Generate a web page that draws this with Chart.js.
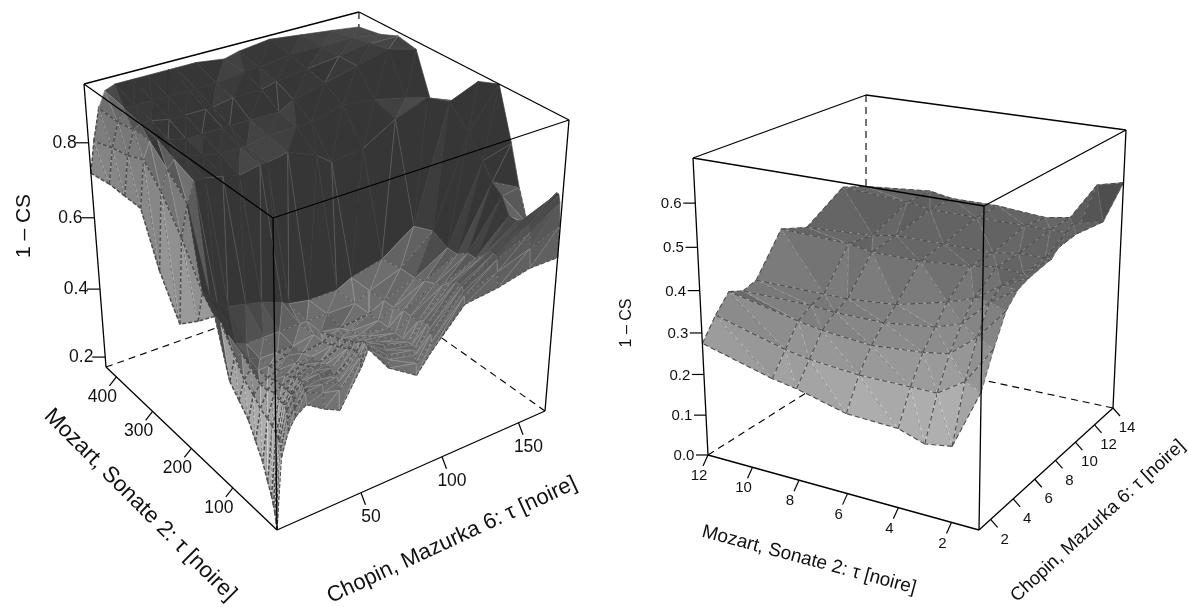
<!DOCTYPE html>
<html>
<head>
<meta charset="utf-8">
<style>
  html, body { margin: 0; padding: 0; background: #fff; }
  canvas { position: absolute; top: 0; }
  #left-surface { left: 0; }
  #right-surface { left: 600px; }
</style>
<script src="https://cdn.jsdelivr.net/npm/chart.js@4"></script>
</head>
<body>
<canvas id="left-surface" width="600" height="607"></canvas>
<canvas id="right-surface" width="588" height="607"></canvas>
<script>
// left panel: lags and 1-CS
const leftMozart = [1, 3, 5, 8, 12, 20, 30, 45, 60, 80, 100, 130, 170, 215, 260, 300, 340, 380, 430];
const leftChopin = [1, 4, 8, 12, 18, 28, 37, 49, 53, 65, 82, 91, 110, 130, 150, 168];
const leftValues = [
  [.17, .36, .42, .45, .47, .44, .42, .51, .55, .48, .43, .48, .57, .58, .60, .60],
  [.19, .38, .45, .47, .50, .48, .47, .52, .56, .50, .46, .50, .59, .62, .65, .68],
  [.21, .40, .47, .49, .51, .50, .49, .53, .56, .51, .48, .52, .60, .65, .69, .74],
  [.23, .40, .48, .50, .52, .51, .50, .54, .56, .52, .49, .53, .61, .66, .71, .76],
  [.25, .41, .48, .50, .52, .52, .50, .54, .56, .53, .50, .54, .61, .66, .71, .76],
  [.28, .42, .48, .50, .52, .52, .51, .54, .55, .53, .50, .54, .61, .66, .71, .74],
  [.32, .43, .49, .50, .51, .52, .51, .53, .54, .53, .50, .53, .60, .64, .70, .66],
  [.36, .44, .48, .50, .50, .51, .50, .52, .53, .52, .50, .53, .58, .62, .70, .62],
  [.40, .46, .48, .49, .50, .50, .50, .51, .52, .51, .50, .53, .57, .62, .74, .64],
  [.43, .48, .50, .49, .49, .50, .49, .50, .51, .50, .50, .52, .56, .60, .76, .72],
  [.46, .52, .52, .50, .49, .49, .49, .50, .50, .49, .50, .52, .55, .60, .80, .82],
  [.60, .58, .54, .51, .50, .50, .50, .50, .50, .50, .50, .52, .55, .62, .85, .95],
  [.55, .62, .60, .58, .56, .55, .54, .52, .51, .50, .50, .52, .54, .60, .90, .93],
  [.50, .72, .80, .85, .85, .84, .83, .84, .84, .85, .82, .79, .80, .85, .88, .85],
  [.60, .80, .85, .87, .87, .86, .85, .85, .85, .86, .86, .86, .88, .87, .85, .80],
  [.73, .85, .89, .89, .88, .87, .87, .87, .87, .87, .87, .89, .91, .93, .95, .93],
  [.73, .83, .89, .90, .90, .89, .89, .89, .89, .90, .90, .91, .92, .93, .94, .94],
  [.73, .82, .88, .91, .91, .91, .91, .91, .91, .91, .92, .92, .93, .93, .93, .92],
  [.72, .80, .88, .92, .93, .93, .93, .93, .93, .93, .92, .93, .94, .93, .92, .91]
];
const leftMozartTicks = [100, 200, 300, 400];
const leftChopinTicks = [50, 100, 150];
const leftValueTicks = [0.2, 0.4, 0.6, 0.8];

// right panel
const rightMozart = [1, 2, 3, 4, 6, 8, 9, 12];
const rightChopin = [1, 2, 3, 4, 5, 7, 9, 12, 14];
const rightValues = [
  [.31, .385, .45, .48, .49, .50, .55, .51, .575],
  [.175, .30, .38, .44, .46, .455, .46, .47, .56],
  [.165, .26, .33, .38, .42, .46, .46, .47, .47],
  [.185, .26, .32, .36, .40, .45, .45, .47, .46],
  [.19, .26, .31, .345, .37, .44, .45, .47, .47],
  [.22, .27, .32, .345, .36, .44, .45, .47, .47],
  [.23, .28, .33, .35, .36, .45, .44, .48, .48],
  [.275, .325, .365, .35, .36, .455, .43, .49, .465]
];
const rightMozartTicks = [2, 4, 6, 8, 10, 12];
const rightChopinTicks = [2, 4, 6, 8, 10, 12, 14];
const rightValueTicks = [0.0, 0.1, 0.2, 0.3, 0.4, 0.5, 0.6];

const mozartTitle = 'Mozart, Sonate 2: τ [noire]';
const chopinTitle = 'Chopin, Mazurka 6: τ [noire]';
const valueTitle = '1 – CS';

// box corners and label placement for each panel (page pixels)
const leftView = {
  xRange: [0, 600],
  F: [277, 530], L: [106, 367], R: [545, 411], B: [357, 278],
  TF: [273, 218], TL: [84, 84], TR: [569, 120], TB: [359, 12],
  uRange: [1, 430], vRange: [1, 168], zRange: [0.17, 0.95],
  uWarp: 1.16, vWarp: 1.1, zWarp: 0.908,
  shade: { base: 165, z: 110, b: 55, a: 50, topCap: 74 },
  darkAt: 88, midAt: 118, dashWidth: 1.5, dash: [4, 2],
  tickFont: '17.5px "Liberation Sans"', uTitleFont: '22.5px "Liberation Sans"', vTitleFont: '22px "Liberation Sans"', zTitleFont: '21px "Liberation Sans"',
  zTick: [-13, 0], zLabel: [-24, 0],
  uTick: [-7, 9], uLabel: [-14, 20],
  vTick: [4.5, 12], vLabel: [10, 24],
  uTitle: { x: 140, y: 505, angle: 45 },
  vTitle: { x: 452, y: 540, angle: -25 },
  zTitle: { x: 24, y: 226 }
};
const rightView = {
  xRange: [600, 1188],
  F: [979, 530], L: [708, 455], R: [1113, 408], B: [866, 355],
  TF: [984, 206], TL: [693, 158], TR: [1126, 130], TB: [866, 95],
  uRange: [1, 12], vRange: [1, 14], zRange: [0, 0.7],
  uWarp: 1.13, vWarp: 1.14, zWarp: 0.93,
  shade: { base: 170, z: 150, b: 50, a: 20, topCap: 255 },
  darkAt: 0, midAt: 0, dashWidth: 1.1, dash: [5, 3],
  tickFont: '15px "Liberation Sans"', uTitleFont: '19px "Liberation Sans"', vTitleFont: '18.5px "Liberation Sans"', zTitleFont: '16px "Liberation Sans"',
  zTick: [-12, 0], zLabel: [-24, 1],
  uTick: [-5, 11], uLabel: [-9, 21],
  vTick: [7, 8], vLabel: [14, 20],
  uTitle: { x: 809, y: 560, angle: 15 },
  vTitle: { x: 1098, y: 521, angle: -42.6 },
  zTitle: { x: 627, y: 323 }
};

const mix = (p, q, t) => [p[0] + (q[0] - p[0]) * t, p[1] + (q[1] - p[1]) * t];
const warp = (r, k) => r * k / (1 + r * (k - 1));

function project(view, a, b, w) {
  const low = mix(mix(view.F, view.L, a), mix(view.R, view.B, a), b);
  const high = mix(mix(view.TF, view.TL, a), mix(view.TR, view.TB, a), b);
  const p = mix(low, high, w);
  return { x: p[0], y: p[1] };
}
function boxCoords(view, u, v, z) {
  return {
    a: warp((u - view.uRange[0]) / (view.uRange[1] - view.uRange[0]), view.uWarp),
    b: warp((v - view.vRange[0]) / (view.vRange[1] - view.vRange[0]), view.vWarp),
    w: warp((z - view.zRange[0]) / (view.zRange[1] - view.zRange[0]), view.zWarp),
  };
}
function toPage(view, u, v, z) {
  const c = boxCoords(view, u, v, z);
  return project(view, c.a, c.b, c.w);
}

function lineSet(points, color, width, dash) {
  return { data: points, showLine: true, borderColor: color, borderWidth: width, borderDash: dash || [], pointRadius: 0, fill: false, tension: 0, clip: false };
}

function faceGray(view, c0, c1, c2, zMean) {
  const e1 = [c1.a - c0.a, c1.b - c0.b, c1.w - c0.w];
  const e2 = [c2.a - c0.a, c2.b - c0.b, c2.w - c0.w];
  let n = [e1[1] * e2[2] - e1[2] * e2[1], e1[2] * e2[0] - e1[0] * e2[2], e1[0] * e2[1] - e1[1] * e2[0]];
  const len = Math.hypot(n[0], n[1], n[2]) || 1;
  const sign = n[2] < 0 ? -1 : 1;
  n = n.map(d => d * sign / len);
  const s = view.shade;
  const aMean = (c0.a + c1.a + c2.a) / 3, bMean = (c0.b + c1.b + c2.b) / 3;
  // walls only go dark towards the back, slopes only catch light near the low-lag side
  const backness = Math.min(1, aMean / 0.3) * Math.min(1, bMean / 0.07);
  const lit = (1 - bMean) * (1 - bMean);
  const farSide = Math.max(0, (bMean - 0.5) * 2);
  let g = s.base - s.z * zMean - s.b * n[1] * lit + s.a * n[0] * backness + s.a * n[1] * farSide;
  if (zMean > 0.78 && bMean > 0.1) g = Math.min(g, s.topCap);
  return Math.max(54, Math.min(175, g));
}

function triangleSets(view, tri, zMean, dashPath, i, j) {
  const cs = tri.map(t => t.c);
  const g = Math.round(faceGray(view, cs[0], cs[1], cs[2], zMean));
  const pts = tri.map(t => t.p);
  const fillColor = `rgb(${g},${g},${g})`;
  // dark faces only show every other mesh line, thin and pale
  const quiet = g <= view.darkAt && (i % 3 !== 0 || j % 2 !== 0);
  const edge = quiet ? fillColor : `rgb(${g + 35},${g + 35},${g + 35})`;
  const out = [{
    data: [...pts, pts[0]], showLine: true, fill: 'shape',
    backgroundColor: fillColor, borderColor: edge,
    borderWidth: 0.7, pointRadius: 0, tension: 0, clip: false
  }];
  if (g > view.darkAt) {
    const width = g > view.midAt ? view.dashWidth : view.dashWidth * 0.6;
    if (g > view.midAt || (i + j) % 2 === 0) out.push(lineSet(dashPath, '#4d4d4d', width, view.dash));
  }
  return out;
}

function surfaceSets(view, mozart, chopin, values) {
  const node = (i, j) => {
    const c = boxCoords(view, mozart[i], chopin[j], values[i][j]);
    return { c, p: project(view, c.a, c.b, c.w), z: values[i][j] };
  };
  const sets = [];
  // painter's order: far corner of the floor first
  for (let i = mozart.length - 2; i >= 0; i--) {
    for (let j = chopin.length - 2; j >= 0; j--) {
      const p00 = node(i, j), p10 = node(i + 1, j), p01 = node(i, j + 1), p11 = node(i + 1, j + 1);
      sets.push(...triangleSets(view, [p00, p10, p11], (p00.z + p10.z + p11.z) / 3, [p10.p, p11.p, p00.p], i, j));
      sets.push(...triangleSets(view, [p00, p01, p11], (p00.z + p01.z + p11.z) / 3, [p01.p, p11.p], i, j));
      if (j === 0) sets.push(lineSet([p00.p, p10.p], '#4d4d4d', view.dashWidth, view.dash));
      if (i === 0) sets.push(lineSet([p00.p, p01.p], '#4d4d4d', view.dashWidth * 0.7, view.dash));
    }
  }
  return sets;
}

function boxSets(view, mozartTicks, chopinTicks, valueTicks) {
  const xy = k => ({ x: view[k][0], y: view[k][1] });
  const back = [['L', 'B'], ['R', 'B'], ['TB', 'B']].map(([p, q]) => lineSet([xy(p), xy(q)], '#000', 1.1, [7, 5]));
  const edges = [['F', 'L'], ['F', 'R'], ['F', 'TF'], ['L', 'TL'], ['R', 'TR'], ['TF', 'TL'], ['TF', 'TR'], ['TL', 'TB'], ['TR', 'TB']];
  const front = edges.map(([p, q]) => lineSet([xy(p), xy(q)], '#000', 1.3));
  const tick = (p, d) => lineSet([p, { x: p.x + d[0], y: p.y + d[1] }], '#000', 1.2);
  mozartTicks.forEach(t => front.push(tick(toPage(view, t, view.vRange[0], view.zRange[0]), view.uTick)));
  chopinTicks.forEach(t => front.push(tick(toPage(view, view.uRange[0], t, view.zRange[0]), view.vTick)));
  valueTicks.forEach(t => front.push(tick(toPage(view, view.uRange[1], view.vRange[0], t), view.zTick)));
  return { back, front };
}

// tick labels and axis titles, written on the canvas as text
function labelPlugin(view, mozartTicks, chopinTicks, valueTicks, decimals) {
  return {
    id: 'boxLabels',
    afterDraw(chart) {
      const ctx = chart.ctx;
      const xs = chart.scales.x, ys = chart.scales.y;
      const put = (text, x, y, angle, font) => {
        ctx.save();
        ctx.translate(xs.getPixelForValue(x), ys.getPixelForValue(y));
        ctx.rotate(angle * Math.PI / 180);
        ctx.font = font;
        ctx.fillStyle = '#111';
        ctx.textAlign = 'center';
        ctx.textBaseline = 'middle';
        ctx.fillText(text, 0, 0);
        ctx.restore();
      };
      mozartTicks.forEach(t => {
        const p = toPage(view, t, view.vRange[0], view.zRange[0]);
        put(String(t), p.x + view.uLabel[0], p.y + view.uLabel[1], 0, view.tickFont);
      });
      chopinTicks.forEach(t => {
        const p = toPage(view, view.uRange[0], t, view.zRange[0]);
        put(String(t), p.x + view.vLabel[0], p.y + view.vLabel[1], 0, view.tickFont);
      });
      valueTicks.forEach(t => {
        const p = toPage(view, view.uRange[1], view.vRange[0], t);
        put(t.toFixed(decimals), p.x + view.zLabel[0], p.y + view.zLabel[1], 0, view.tickFont);
      });
      put(mozartTitle, view.uTitle.x, view.uTitle.y, view.uTitle.angle, view.uTitleFont);
      put(chopinTitle, view.vTitle.x, view.vTitle.y, view.vTitle.angle, view.vTitleFont);
      put(valueTitle, view.zTitle.x, view.zTitle.y, -90, view.zTitleFont);
    }
  };
}

function surfaceChart(id, view, mozart, chopin, values, mozartTicks, chopinTicks, valueTicks) {
  const box = boxSets(view, mozartTicks, chopinTicks, valueTicks);
  const ordered = [...box.back, ...surfaceSets(view, mozart, chopin, values), ...box.front];
  return new Chart(document.getElementById(id), {
    type: 'scatter',
    // chart.js paints the first dataset last, so hand them over back to front reversed
    data: { datasets: ordered.reverse() },
    options: {
      responsive: false,
      animation: false,
      parsing: false,
      normalized: true,
      events: [],
      layout: { padding: 0 },
      scales: {
        x: { type: 'linear', display: false, min: view.xRange[0], max: view.xRange[1] },
        y: { type: 'linear', display: false, reverse: true, min: 0, max: 607 }
      },
      plugins: { legend: { display: false }, tooltip: { enabled: false } }
    },
    plugins: [labelPlugin(view, mozartTicks, chopinTicks, valueTicks, 1)]
  });
}

surfaceChart('left-surface', leftView, leftMozart, leftChopin, leftValues, leftMozartTicks, leftChopinTicks, leftValueTicks);
surfaceChart('right-surface', rightView, rightMozart, rightChopin, rightValues, rightMozartTicks, rightChopinTicks, rightValueTicks);
</script>
</body>
</html>
